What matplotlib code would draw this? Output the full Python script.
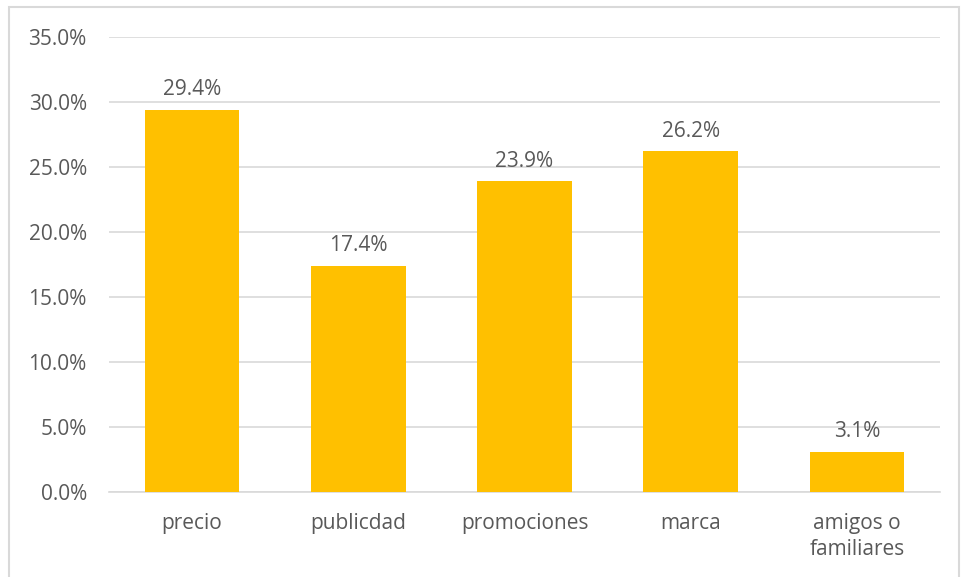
import matplotlib
matplotlib.use("Agg")
import matplotlib.pyplot as plt
from matplotlib.patches import Rectangle
from matplotlib.ticker import PercentFormatter

categories = ["precio", "publicdad", "promociones", "marca", "amigos o\nfamiliares"]
shares = [29.4, 17.4, 23.9, 26.2, 3.1]
y_ticks = [0, 5, 10, 15, 20, 25, 30, 35]

BAR_COLOR = "#FFC000"
TEXT_COLOR = "#595959"
GRID_COLOR = "#D9D9D9"
FONT_SIZE = 15

plt.rcParams["font.family"] = ["Open Sans", "DejaVu Sans"]

fig = plt.figure(figsize=(9.63, 5.77), dpi=100)
ax = fig.add_axes([109 / 963, 85 / 577, (940 - 109) / 963, (492 - 37) / 577])

x = range(len(categories))
bars = ax.bar(x, shares, width=0.57, color=BAR_COLOR, zorder=3)

for rect, val in zip(bars, shares):
    ax.annotate(f"{val:.1f}%", (rect.get_x() + rect.get_width() / 2, val),
                xytext=(0, 7), textcoords="offset points",
                ha="center", va="bottom", fontsize=FONT_SIZE, color=TEXT_COLOR)

ax.set_xlim(-0.5, len(categories) - 0.5)
ax.set_ylim(0, 35)
ax.set_yticks(y_ticks)
ax.yaxis.set_major_formatter(PercentFormatter(decimals=1))
ax.set_xticks(list(x))
ax.set_xticklabels(categories, linespacing=1.35)
ax.tick_params(axis="both", length=0, labelsize=FONT_SIZE, labelcolor=TEXT_COLOR)
ax.tick_params(axis="y", pad=16)
ax.tick_params(axis="x", pad=15)
ax.grid(axis="y", color=GRID_COLOR, linewidth=1.2, zorder=0)
for side in ["top", "right", "left"]:
    ax.spines[side].set_visible(False)
ax.spines["bottom"].set_color(GRID_COLOR)
ax.spines["bottom"].set_linewidth(1.2)

# chart frame
fig.patches.append(Rectangle((9 / 963, -0.02), (959 - 9) / 963, (577 - 7) / 577 + 0.02,
                             transform=fig.transFigure, fill=False,
                             edgecolor=GRID_COLOR, linewidth=1.5))

fig.savefig("out.png", dpi=100)
